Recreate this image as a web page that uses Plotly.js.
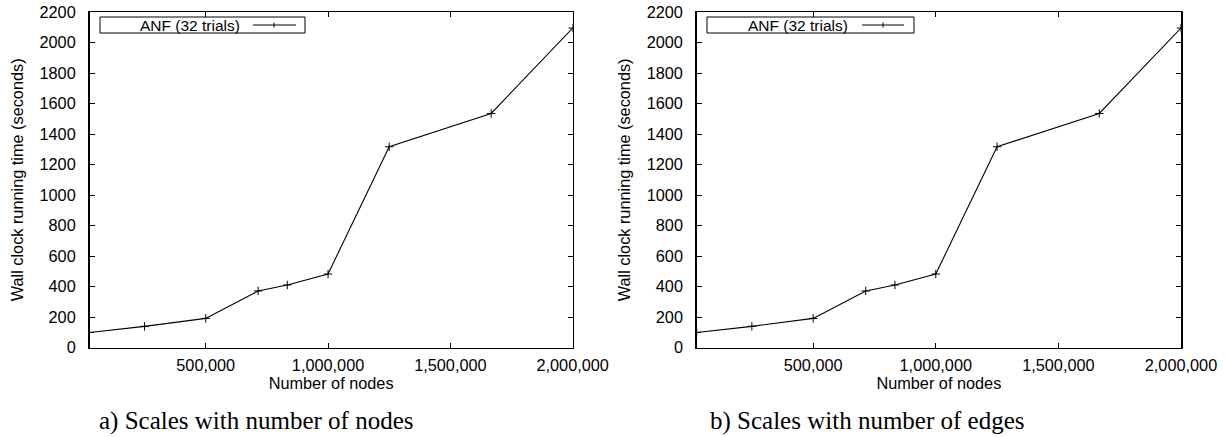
<!DOCTYPE html>
<html>
<head>
<meta charset="utf-8">
<script src="https://cdn.plot.ly/plotly-3.0.1.min.js"></script>
<style>html,body{margin:0;padding:0;background:#fff;}#chart{width:1225px;height:437px;}</style>
</head>
<body>
<div id="chart"></div>
<script>
// Data
var numNodes = [25000, 250000, 500000, 714286, 833333, 1000000, 1250000, 1666667, 2000000];
var timeByNodes = [100, 140, 192, 372, 411, 483, 1317, 1535, 2095];
var numNodesB = [25000, 250000, 500000, 714286, 833333, 1000000, 1250000, 1666667, 2000000];
var timeByEdges = [100, 140, 192, 372, 411, 483, 1317, 1535, 2095];
var xTickVals = [500000, 1000000, 1500000, 2000000];
var xTickText = ["500,000", "1,000,000", "1,500,000", "2,000,000"];
var yTickVals = [0, 200, 400, 600, 800, 1000, 1200, 1400, 1600, 1800, 2000, 2200];
var seriesName = "ANF (32 trials)";
var xTitle = "Number of nodes";
var yTitle = "Wall clock running time (seconds)";
var captions = ["a) Scales with number of nodes", "b) Scales with number of edges"];

var W = 1225, H = 437;
function px(x){ return x / W; }
function py(y){ return 1 - y / H; }

var font = {family: "Liberation Sans, Arial, sans-serif", size: 16.3, color: "#000"};
var legFont = {family: "Liberation Sans, Arial, sans-serif", size: 15.5, color: "#000"};

function trace(x, y, xa, ya){
  return {
    x: x, y: y, xaxis: xa, yaxis: ya, type: "scatter", mode: "lines+markers",
    name: seriesName, showlegend: false,
    line: {color: "#000", width: 1.1},
    marker: {symbol: "cross-thin-open", size: 6, color: "#000", line: {color: "#000", width: 1}}
  };
}

function xaxisDef(domain, anchor){
  return {
    domain: domain, anchor: anchor, range: [25000, 2000000],
    tickvals: xTickVals, ticktext: xTickText,
    ticks: "inside", ticklen: 5, tickcolor: "#000", tickwidth: 1,
    showline: true, linecolor: "#000", linewidth: 1.5, mirror: "allticks",
    showgrid: false, zeroline: false, tickfont: font,
    ticklabelstandoff: 2,
    title: {text: xTitle, font: font, standoff: 0}
  };
}
function yaxisDef(anchor){
  return {
    domain: [py(347.7), py(12)], anchor: anchor, range: [0, 2200],
    tickvals: yTickVals,
    ticks: "inside", ticklen: 5, tickcolor: "#000", tickwidth: 1,
    showline: true, linecolor: "#000", linewidth: 1.5, mirror: "allticks",
    showgrid: false, zeroline: false, tickfont: font,
    ticklabelstandoff: 9,
    title: {text: yTitle, font: font, standoff: 12}
  };
}

var shapes = [];
var annotations = [];
function legend(x0, x1, textRight, l0, l1, markX){
  shapes.push({type: "rect", xref: "paper", yref: "paper", x0: px(x0), x1: px(x1), y0: py(33), y1: py(17),
    line: {color: "#000", width: 1}, fillcolor: "#fff", layer: "above"});
  shapes.push({type: "line", xref: "paper", yref: "paper", x0: px(l0), x1: px(l1), y0: py(25), y1: py(25),
    line: {color: "#000", width: 1}});
  shapes.push({type: "line", xref: "paper", yref: "paper", x0: px(markX), x1: px(markX), y0: py(22.5), y1: py(27.5),
    line: {color: "#000", width: 1}});
  annotations.push({xref: "paper", yref: "paper", x: px(textRight), y: py(25), xanchor: "right", yanchor: "middle",
    text: seriesName, showarrow: false, font: legFont});
}
legend(100, 305, 242, 253, 296, 274);
legend(707, 914, 850, 862, 904, 883);

var capFont = {family: "Liberation Serif, Times New Roman, serif", size: 25, color: "#000"};
annotations.push({xref: "paper", yref: "paper", x: px(256), y: py(421), xanchor: "center", yanchor: "middle",
  text: captions[0], showarrow: false, font: capFont});
annotations.push({xref: "paper", yref: "paper", x: px(867), y: py(421), xanchor: "center", yanchor: "middle",
  text: captions[1], showarrow: false, font: capFont});

var layout = {
  width: W, height: H,
  margin: {l: 0, r: 0, t: 0, b: 0, pad: 0},
  paper_bgcolor: "#fff", plot_bgcolor: "#fff",
  showlegend: false,
  font: font,
  xaxis: xaxisDef([px(89.5), px(572.7)], "y"),
  yaxis: yaxisDef("x"),
  xaxis2: xaxisDef([px(696.7), px(1181)], "y2"),
  yaxis2: yaxisDef("x2"),
  shapes: shapes,
  annotations: annotations
};

Plotly.newPlot("chart", [trace(numNodes, timeByNodes, "x", "y"), trace(numNodesB, timeByEdges, "x2", "y2")], layout, {staticPlot: true, displayModeBar: false});
</script>
</body>
</html>
